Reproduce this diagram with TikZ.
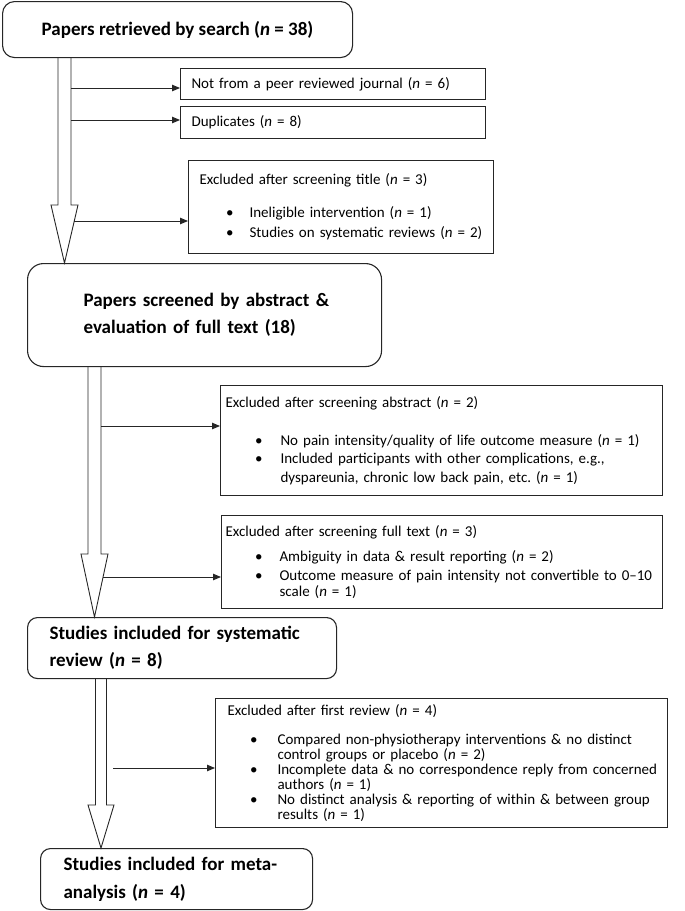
\documentclass[tikz,border=0pt]{standalone}
\usepackage{fontspec}
\setmainfont{Carlito}
\usetikzlibrary{arrows.meta}
\frenchspacing
\newcommand\bi[2]{\hspace*{#1}\makebox[#2][l]{\textbullet}}
\newcommand\ci[1]{\hspace*{#1}}
\tikzset{
  boxline/.style={draw=black!85, line width=1.1pt, inner ysep=0pt, anchor=north west},
  rbox/.style={boxline, rounded corners=#1},
  sbox/.style={boxline, align=left},
  boldtxt/.style={font=\bfseries\fontsize{19}{#1}\selectfont},
  smalltxt/.style={font=\fontsize{15}{#1}\selectfont},
  bigarrow/.style={draw=black!85, line width=0.9pt, line join=miter},
  conn/.style={draw=black!85, line width=0.9pt, -{Triangle[length=8pt,width=6.5pt]}},
}
\begin{document}
\begin{tikzpicture}[x=1pt,y=-1pt]
\useasboundingbox (0,0) rectangle (685,911);

% main boxes
\node[rbox=12pt, minimum width=350pt, minimum height=56pt, inner xsep=0pt, boldtxt=23] (b1) at (2,1)
  {Papers retrieved by search (\textit{n} = 38)};
\node[rbox=16pt, align=left, text width=242pt, inner xsep=56pt, minimum height=103pt, boldtxt=27] (b2) at (27,263)
  {\mbox{Papers screened by abstract \&}\\\mbox{evaluation of full text (18)}};
\node[rbox=10pt, align=left, text width=265pt, inner xsep=22pt, minimum height=61pt, boldtxt=27] (b3) at (27,617)
  {\mbox{Studies included for systematic}\\\mbox{review (\textit{n} = 8)}};
\node[rbox=10pt, align=left, text width=226pt, inner xsep=23pt, minimum height=61pt, boldtxt=28] (b4) at (40,848)
  {\mbox{Studies included for meta-}\\\mbox{analysis (\textit{n} = 4)}};

% exclusion boxes
\node[sbox, text width=283pt, inner xsep=11pt, minimum height=31pt, smalltxt=18] (n1) at (180,68)
  {Not from a peer reviewed journal (\textit{n} = 6)};
\node[sbox, text width=283pt, inner xsep=11pt, minimum height=32pt, smalltxt=18] (n2) at (180,106)
  {Duplicates (\textit{n} = 8)};
\node[sbox, text width=283pt, inner xsep=11pt, minimum height=93pt, smalltxt=20] (t1) at (188,160)
  {Excluded after screening title (\textit{n} = 3)\\[13pt]
   \bi{26.5pt}{23.5pt}Ineligible intervention (\textit{n} = 1)\\
   \bi{26.5pt}{23.5pt}Studies on systematic reviews (\textit{n} = 2)};
\node[sbox, text width=432pt, inner xsep=5pt, minimum height=110pt, smalltxt=18.5] (a1) at (220,385)
  {Excluded after screening abstract (\textit{n} = 2)\\[19.5pt]
   \bi{29.5pt}{25.5pt}\mbox{No pain intensity/quality of life outcome measure (\textit{n} = 1)}\\
   \bi{29.5pt}{25.5pt}\mbox{Included participants with other complications, e.g.,}\\
   \ci{55pt}\mbox{dyspareunia, chronic low back pain, etc. (\textit{n} = 1)}};
\node[sbox, text width=433pt, inner xsep=4pt, minimum height=93pt, smalltxt=16] (f1) at (221,515)
  {Excluded after screening full text (\textit{n} = 3)\\[9pt]
   \bi{29.5pt}{24.5pt}\mbox{Ambiguity in data \& result reporting (\textit{n} = 2)}\\[3pt]
   \bi{29.5pt}{24.5pt}\mbox{Outcome measure of pain intensity not convertible to 0–10}\\
   \ci{54pt}scale (\textit{n} = 1)};
\node[sbox, text width=428pt, inner xsep=12pt, minimum height=129pt, smalltxt=15] (r1) at (215,698)
  {Excluded after first review (\textit{n} = 4)\\[14pt]
   \bi{22.5pt}{27.5pt}\mbox{Compared non-physiotherapy interventions \& no distinct}\\
   \ci{50pt}\mbox{control groups or placebo (\textit{n} = 2)}\\
   \bi{22.5pt}{27.5pt}\mbox{Incomplete data \& no correspondence reply from concerned}\\
   \ci{50pt}authors (\textit{n} = 1)\\
   \bi{22.5pt}{27.5pt}\mbox{No distinct analysis \& reporting of within \& between group}\\
   \ci{50pt}results (\textit{n} = 1)};

% block arrows
\draw[bigarrow] (58,0 |- b1.south) -- (58,205) -- (51,205) -- (64.5,0 |- b2.north)
  -- (78,205) -- (71,205) -- (71,0 |- b1.south);
\draw[bigarrow] (88,0 |- b2.south) -- (88,554) -- (81,554) -- (94.5,0 |- b3.north)
  -- (108,554) -- (101,554) -- (101,0 |- b2.south);
\draw[bigarrow] (95.5,0 |- b3.south) -- (95.5,805) -- (88,805) -- (101,0 |- b4.north)
  -- (114,805) -- (106.5,805) -- (106.5,0 |- b3.south);

% side connectors
\coordinate (s1) at (71,88);
\coordinate (s2) at (71,120);
\coordinate (s3) at (73.5,221);
\coordinate (s4) at (101,426);
\coordinate (s5) at (103,577);
\coordinate (s6) at (113,768);
\draw[conn] (s1) -- (s1 -| n1.west);
\draw[conn] (s2) -- (s2 -| n2.west);
\draw[conn] (s3) -- (s3 -| t1.west);
\draw[conn] (s4) -- (s4 -| a1.west);
\draw[conn] (s5) -- (s5 -| f1.west);
\draw[conn] (s6) -- (s6 -| r1.west);
\end{tikzpicture}
\end{document}
